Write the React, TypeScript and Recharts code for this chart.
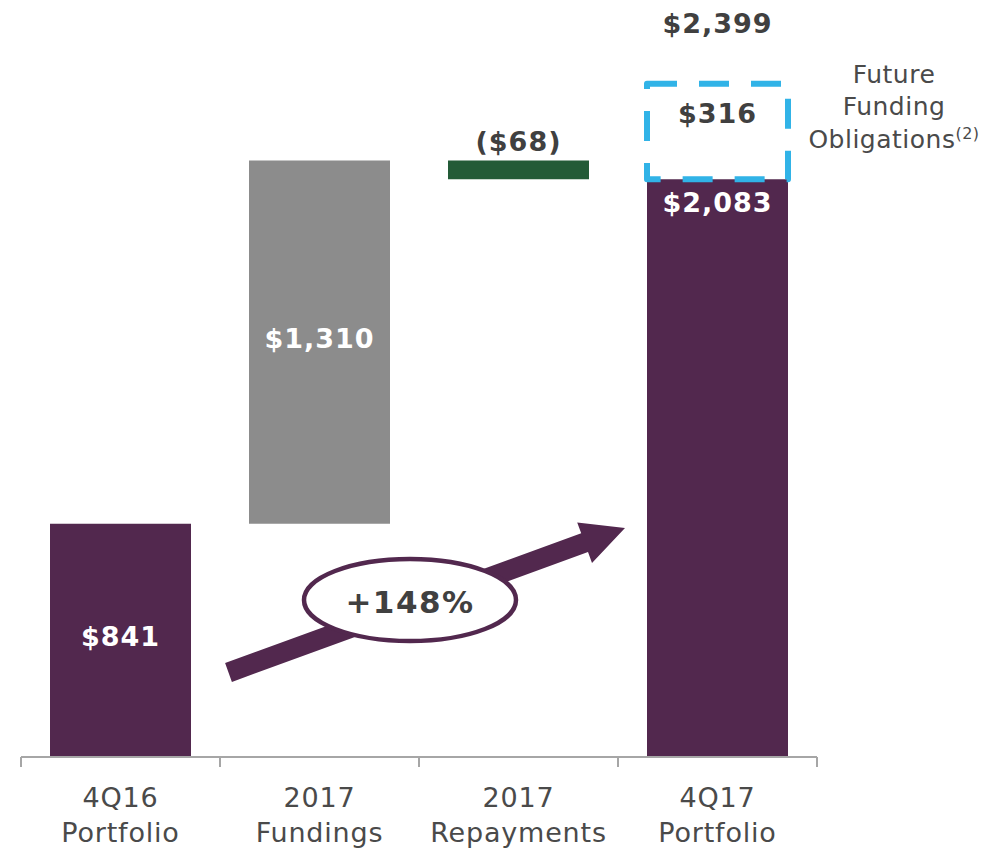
import React from 'react';
import { BarChart, Bar, XAxis, YAxis, Cell, LabelList, Customized } from 'recharts';

// Portfolio bridge, $ millions
const categories = [
  ['4Q16', 'Portfolio'],
  ['2017', 'Fundings'],
  ['2017', 'Repayments'],
  ['4Q17', 'Portfolio'],
];
const kinds = ['total', 'up', 'down', 'total'];
const amounts = [841, 1310, -68, 2083];
const futureFunding = [0, 0, 0, 316];
const growthLabel = '+148%';
const futureNote = ['Future', 'Funding', 'Obligations'];
const futureNoteRef = '(2)';

const WIDTH = 995;
const HEIGHT = 848;
const MARGIN = { top: 36, right: 178, bottom: 0, left: 21 };
const BAND = (WIDTH - MARGIN.left - MARGIN.right) / categories.length;
const TICK_SIZE = 10;

const PURPLE = '#52284E';
const COLORS: Record<string, string> = { total: PURPLE, up: '#8C8C8C', down: '#235B37' };
const BLUE = '#31B3E7';
const TEXT = '#404040';
const LIGHT_TEXT = '#4a4a4a';
const FONT = '"DejaVu Sans", sans-serif';

const fmt = (v: number) => {
  const s = '$' + Math.abs(v).toLocaleString('en-US');
  return v < 0 ? `(${s})` : s;
};

// build the floating-bar table
let running = 0;
const data = categories.map((c, i) => {
  let base = 0;
  const v = amounts[i];
  if (kinds[i] === 'total') {
    running = v;
  } else if (v >= 0) {
    base = running;
    running += v;
  } else {
    running += v;
    base = running;
  }
  return { name: c.join('\n'), base, value: Math.abs(v), future: futureFunding[i] };
});

const CategoryTick = (props: any) => {
  const { x, y, payload, index } = props;
  const lines = String(payload.value).split('\n');
  const axisY = y - TICK_SIZE;
  const half = BAND / 2;
  return (
    <g>
      <line x1={x - half} x2={x - half} y1={axisY} y2={axisY + TICK_SIZE} stroke="#A6A6A6" strokeWidth={2} />
      {index === categories.length - 1 && (
        <line x1={x + half} x2={x + half} y1={axisY} y2={axisY + TICK_SIZE} stroke="#A6A6A6" strokeWidth={2} />
      )}
      <text x={x} y={y} textAnchor="middle" fill={LIGHT_TEXT} fontSize={27} letterSpacing={0.8} fontFamily={FONT}>
        {lines.map((l, i) => (
          <tspan key={i} x={x} dy={i === 0 ? 40 : 35}>
            {l}
          </tspan>
        ))}
      </text>
    </g>
  );
};

const ValueLabel = (props: any) => {
  const { x, y, width, height, index } = props;
  const cx = x + width / 2;
  const kind = kinds[index];
  const txt = fmt(amounts[index]);
  const common = { textAnchor: 'middle' as const, fontSize: 27, fontWeight: 700, fontFamily: FONT, letterSpacing: 1 };
  if (kind === 'down') {
    return (
      <text x={cx} y={y - 10} fill={TEXT} {...common}>
        {txt}
      </text>
    );
  }
  if (index === categories.length - 1) {
    return (
      <text x={cx} y={y + 33} fill="#fff" {...common}>
        {txt}
      </text>
    );
  }
  return (
    <text x={cx} y={y + height / 2 + 6} fill="#fff" {...common}>
      {txt}
    </text>
  );
};

const FutureBox = (props: any) => {
  const { x, y, width, height } = props;
  if (!height || height <= 0) return null;
  return (
    <rect
      x={x}
      y={y - 8}
      width={width}
      height={height + 8}
      fill="none"
      stroke={BLUE}
      strokeWidth={6}
      strokeDasharray="30 22"
      strokeLinejoin="round"
    />
  );
};

const FutureLabel = (props: any) => {
  const { x, y, width, index } = props;
  if (!futureFunding[index]) return null;
  const cx = x + width / 2;
  const total = amounts[index] + futureFunding[index];
  const noteX = x + width + 106;
  const bold = { textAnchor: 'middle' as const, fontSize: 27, fontWeight: 700, fontFamily: FONT, letterSpacing: 1, fill: TEXT };
  return (
    <g>
      <text x={cx} y={y + 31} {...bold}>
        {fmt(futureFunding[index])}
      </text>
      <text x={cx} y={y - 59} {...bold}>
        {fmt(total)}
      </text>
      <text x={noteX} y={y - 9} textAnchor="middle" fill={LIGHT_TEXT} fontSize={25} letterSpacing={0.5} fontFamily={FONT}>
        <tspan x={noteX}>{futureNote[0]}</tspan>
        <tspan x={noteX} dy={32}>{futureNote[1]}</tspan>
        <tspan x={noteX} dy={33}>
          {futureNote[2]}
          <tspan fontSize={16} dy={-9}>{futureNoteRef}</tspan>
        </tspan>
      </text>
    </g>
  );
};

// growth arrow + ellipse annotation
const Growth = () => (
  <g>
    <polygon
      points="225.1,663.1 581.2,533.3 577.2,522.5 625,528 592,562.9 588,552.1 231.9,681.9"
      fill={PURPLE}
    />
    <ellipse cx={410} cy={600} rx={106} ry={41} fill="#fff" stroke={PURPLE} strokeWidth={4.5} />
    <text x={410} y={613} textAnchor="middle" fill={TEXT} fontSize={31} fontWeight={700} fontFamily={FONT} letterSpacing={1.5}>
      {growthLabel}
    </text>
  </g>
);

export default function App() {
  return (
    <div style={{ position: 'absolute', left: 0, top: 0, background: '#fff' }}>
      <BarChart width={WIDTH} height={HEIGHT} data={data} margin={MARGIN} barSize={141}>
        <XAxis
          dataKey="name"
          interval={0}
          height={91}
          tickSize={TICK_SIZE}
          tickMargin={0}
          tickLine={false}
          axisLine={{ stroke: '#A6A6A6', strokeWidth: 2 }}
          tick={<CategoryTick />}
        />
        <YAxis hide domain={[0, 2600]} />
        <Bar dataKey="base" stackId="a" fill="transparent" isAnimationActive={false} />
        <Bar dataKey="value" stackId="a" isAnimationActive={false}>
          {data.map((_, i) => (
            <Cell key={i} fill={COLORS[kinds[i]]} />
          ))}
          <LabelList dataKey="value" content={<ValueLabel />} />
        </Bar>
        <Bar dataKey="future" stackId="a" isAnimationActive={false} shape={<FutureBox />}>
          <LabelList dataKey="future" content={<FutureLabel />} />
        </Bar>
        <Customized component={<Growth />} />
      </BarChart>
    </div>
  );
}
